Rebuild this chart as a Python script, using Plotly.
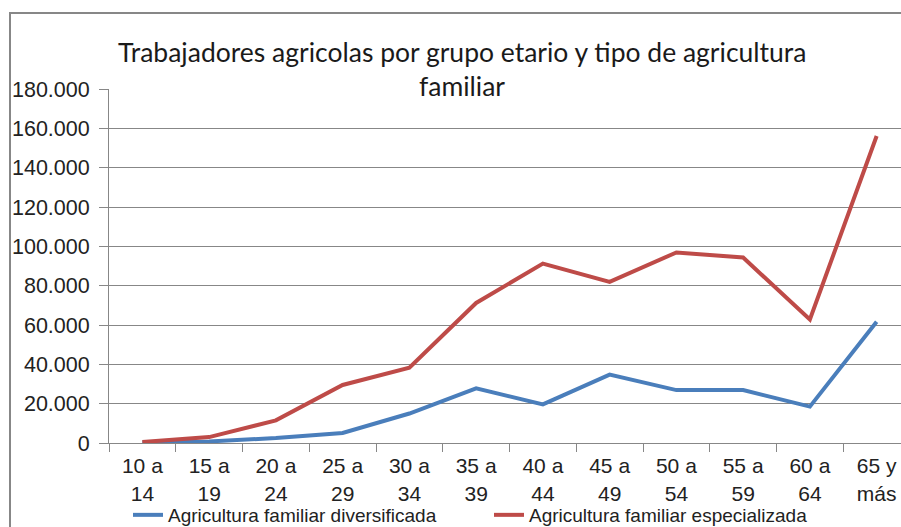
import plotly.graph_objects as go

grupos = ["10 a<br>14", "15 a<br>19", "20 a<br>24", "25 a<br>29", "30 a<br>34", "35 a<br>39",
          "40 a<br>44", "45 a<br>49", "50 a<br>54", "55 a<br>59", "60 a<br>64", "65 y<br>más"]
diversificada = [300, 800, 2500, 5100, 15000, 27800, 19600, 34800, 26900, 26900, 18500, 61600]
especializada = [500, 3000, 11500, 29500, 38300, 71200, 91200, 81900, 96900, 94300, 62800, 156100]

azul = "#4A7EBB"
rojo = "#BE4B48"
gris = "#878787"

fig = go.Figure()
fig.add_trace(go.Scatter(name="Agricultura familiar diversificada", x=grupos, y=diversificada,
                         mode="lines", line=dict(color=azul, width=4)))
fig.add_trace(go.Scatter(name="Agricultura familiar especializada", x=grupos, y=especializada,
                         mode="lines", line=dict(color=rojo, width=4)))

# marco exterior del grafico (cortado a la derecha y abajo)
fig.add_shape(type="rect", xref="paper", yref="paper",
              x0=(10 - 109) / 792, x1=1.3, y0=-0.6, y1=(443 - 13) / 354,
              line=dict(color=gris, width=2), layer="below")

titulo_font = dict(family="Lato, Carlito, sans-serif", size=26.5, color="#1a1a1a")
fig.add_annotation(text="Trabajadores agricolas por grupo etario y tipo de agricultura",
                   xref="paper", yref="paper", x=(462 - 109) / 792, y=(443 - 52) / 354,
                   showarrow=False, font=titulo_font, xanchor="center", yanchor="middle")
fig.add_annotation(text="familiar",
                   xref="paper", yref="paper", x=(462 - 109) / 792, y=(443 - 86) / 354,
                   showarrow=False, font=titulo_font, xanchor="center", yanchor="middle")

fig.update_layout(
    width=901, height=527,
    margin=dict(l=109, r=0, t=89, b=84, autoexpand=False),
    paper_bgcolor="white", plot_bgcolor="white",
    separators=",.",
    font=dict(family="Liberation Sans, Arial, sans-serif", size=21, color="#222222"),
    showlegend=True,
    legend=dict(orientation="h", x=(128 - 109) / 792, y=(443 - 515) / 354,
                xanchor="left", yanchor="middle", font=dict(size=19),
                entrywidth=316, entrywidthmode="pixels", bgcolor="rgba(0,0,0,0)"),
    xaxis=dict(type="category", range=[-0.5, 11.365], tickson="boundaries",
               ticks="outside", ticklen=8, tickcolor=gris, showline=True, linecolor=gris,
               showgrid=False, fixedrange=True, ticklabelstandoff=4),
    yaxis=dict(range=[0, 180000], dtick=20000, tickformat=",d", ticks="outside", ticklen=9,
               tickcolor=gris, showline=True, linecolor=gris, showgrid=True, gridcolor=gris,
               gridwidth=1, zeroline=False, ticklabelstandoff=5, tickfont=dict(size=21.5)),
)

# sin el margen por defecto del body, el grafico ocupa la ventana entera
fig.write_html("out.html", config={"displayModeBar": False},
               post_script="document.body.style.margin='0';document.body.style.overflow='hidden';")
